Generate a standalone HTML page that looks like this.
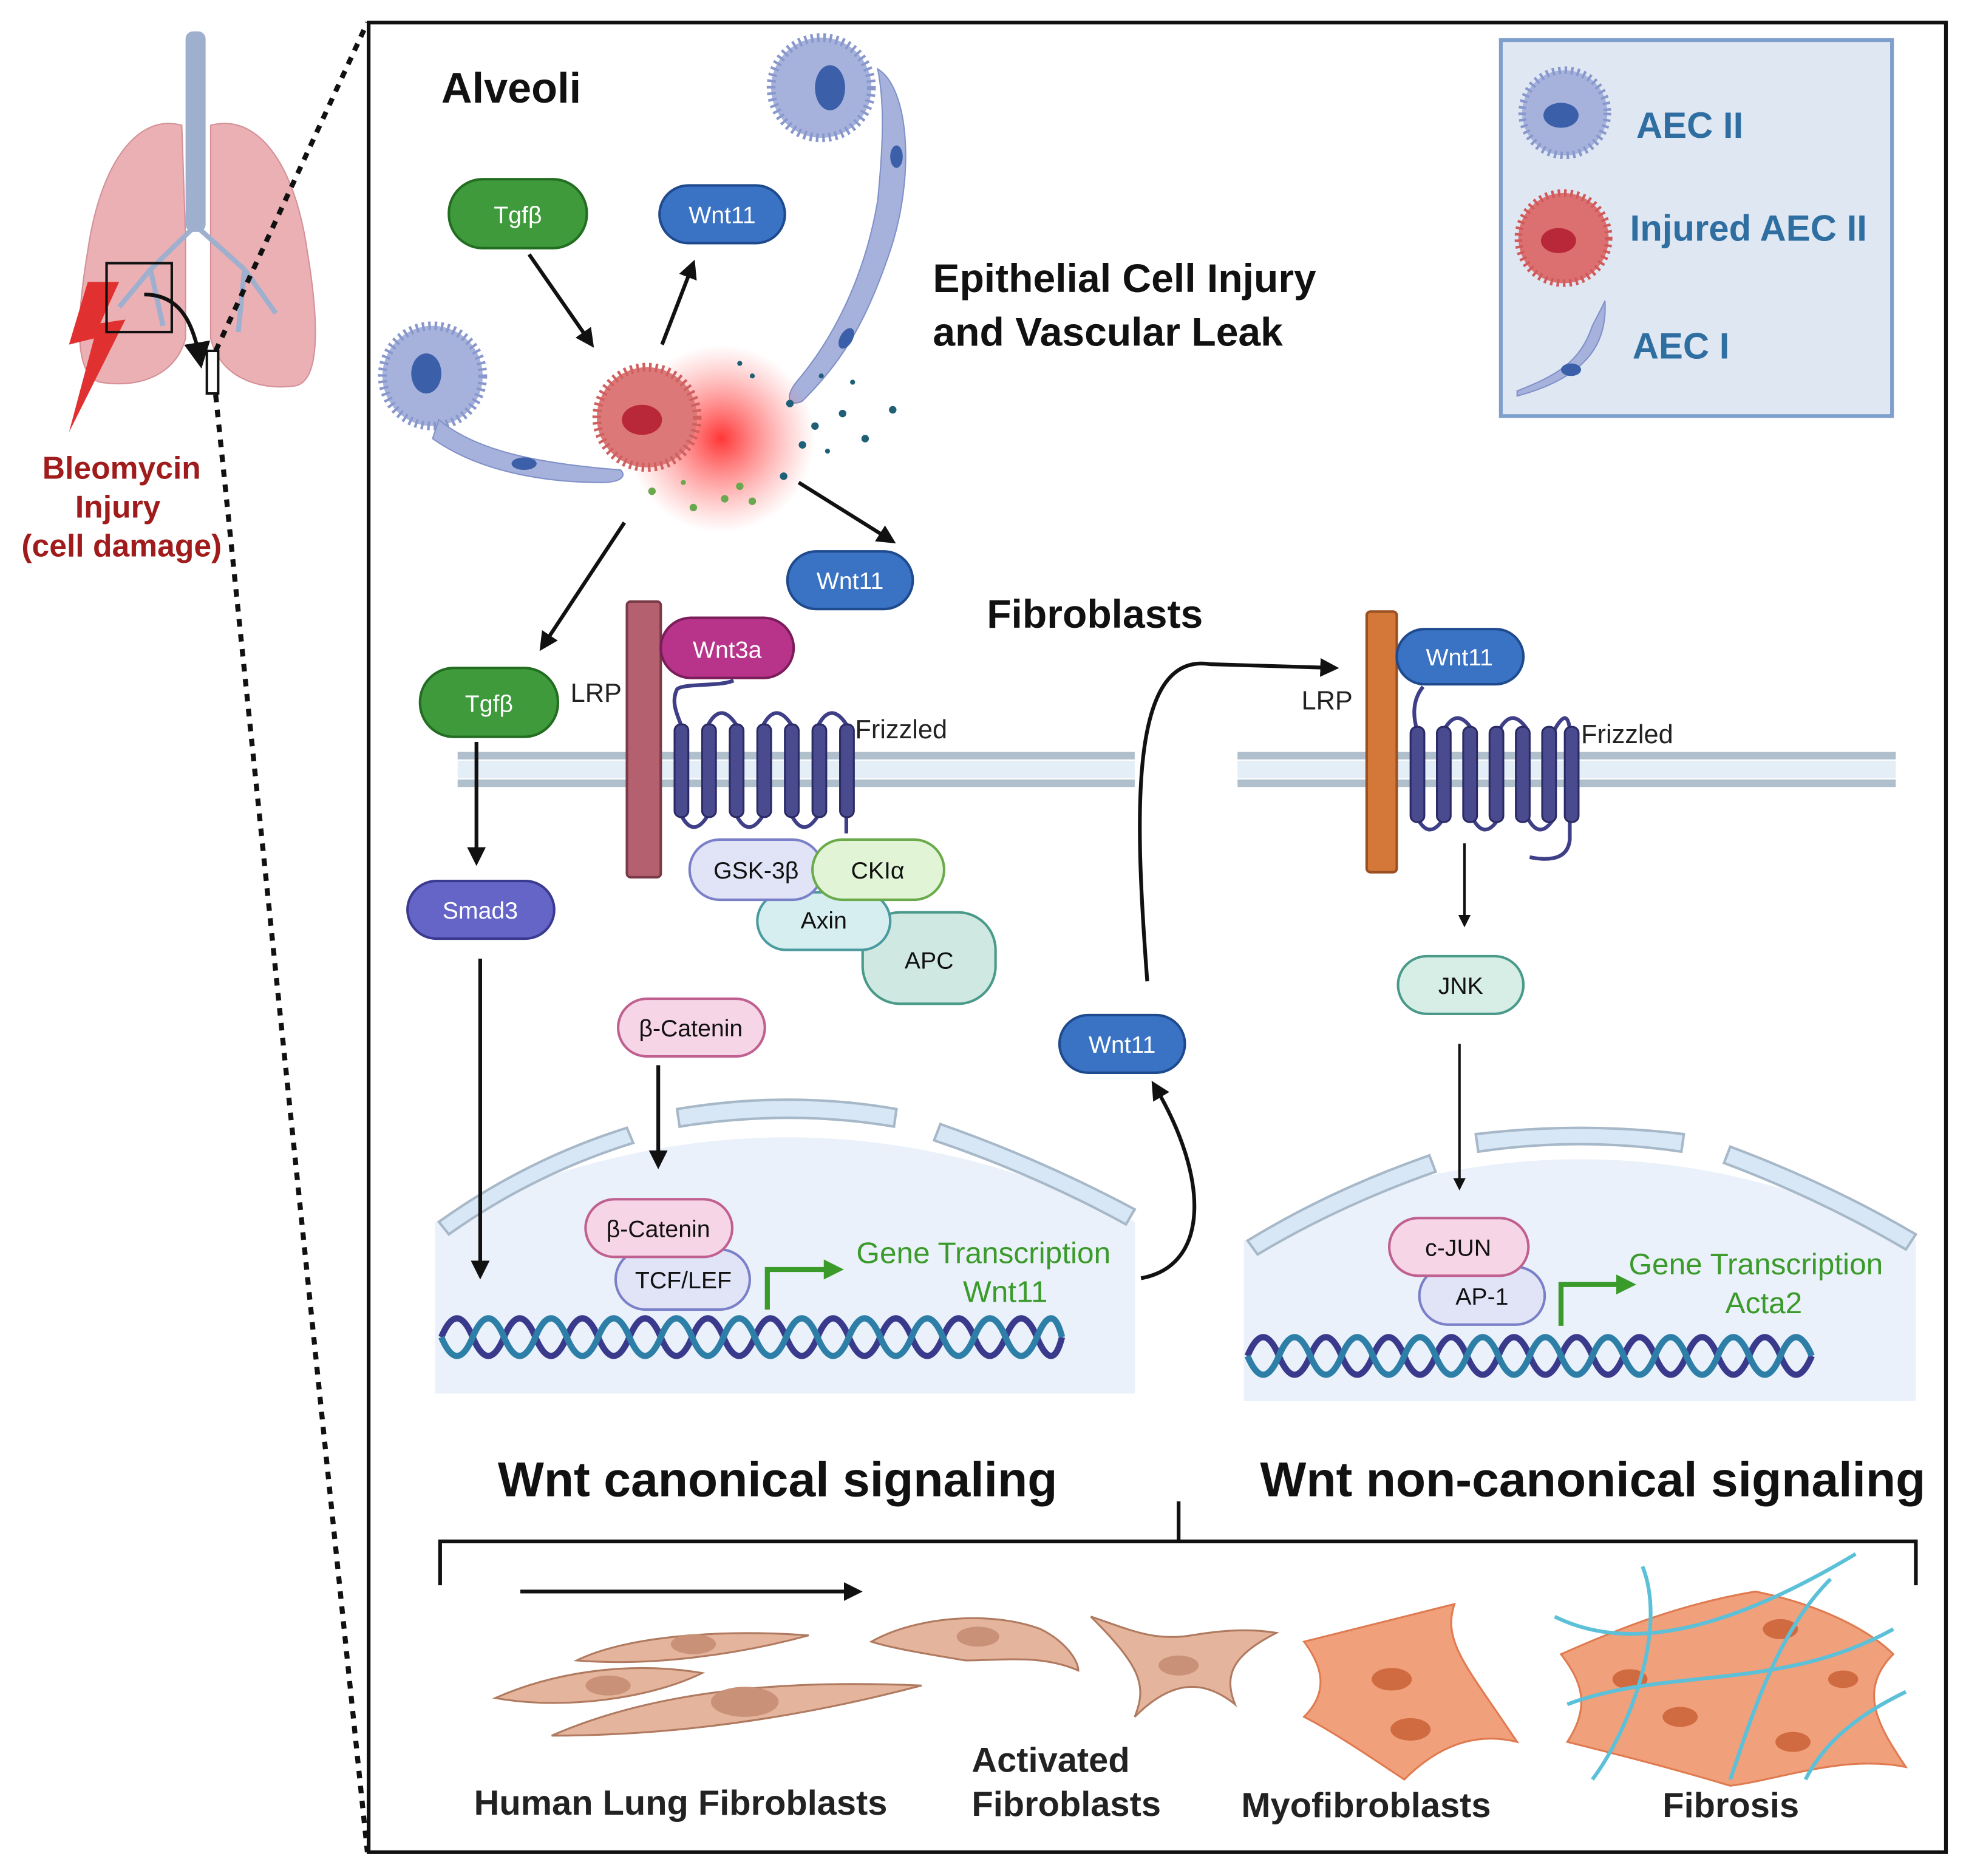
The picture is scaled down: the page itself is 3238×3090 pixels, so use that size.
<!DOCTYPE html>
<html><head><meta charset="utf-8"><style>
html,body{margin:0;padding:0;background:#fff;}
svg{display:block;}
text{font-family:"Liberation Sans",sans-serif;}
</style></head><body>
<svg width="3238" height="3090" viewBox="0 0 1568 1497" preserveAspectRatio="none" xmlns="http://www.w3.org/2000/svg">
<defs>
<marker id="ah" viewBox="0 0 10 10" refX="8" refY="5" markerWidth="5" markerHeight="5" orient="auto-start-reverse"><path d="M0,0L10,5L0,10z" fill="#111"/></marker>
<marker id="ahs" viewBox="0 0 10 10" refX="8" refY="5" markerWidth="7" markerHeight="7" orient="auto"><path d="M0,0L10,5L0,10z" fill="#111"/></marker>
<marker id="ahg" viewBox="0 0 10 10" refX="5" refY="5" markerWidth="4" markerHeight="4" orient="auto"><path d="M0,0L10,5L0,10z" fill="#3a9a2a"/></marker>
<radialGradient id="red" cx="0.5" cy="0.5" r="0.5"><stop offset="0" stop-color="#ff2020" stop-opacity="0.9"/><stop offset="1" stop-color="#ff6060" stop-opacity="0"/></radialGradient>
</defs>

<!-- lungs -->
<path d="M145,100 C110,90 80,130 70,200 C60,260 60,300 80,305 C110,310 140,300 148,270 L148,190 Z" fill="#eab0b4" stroke="#d49096"/>
<path d="M168,100 C205,90 235,130 245,200 C255,260 255,305 235,308 C205,312 175,300 168,270 L168,190 Z" fill="#eab0b4" stroke="#d49096"/>
<rect x="148" y="25" width="16" height="160" rx="6" fill="#9fb0cf"/>
<path d="M156,180 L120,215 M156,180 L195,215 M120,215 L95,245 M195,215 L220,250 M120,215 L130,260 M195,215 L190,265" stroke="#9fb0cf" stroke-width="4" fill="none"/>
<path d="M70,225 L55,275 L75,270 L55,345 L100,255 L80,258 L95,225 Z" fill="#e03030"/>
<rect x="85" y="210" width="52" height="55" fill="none" stroke="#111" stroke-width="2"/>
<path d="M115,235 C145,235 155,260 160,290" stroke="#111" stroke-width="3" fill="none" marker-end="url(#ahs)"/>
<rect x="165" y="280" width="9" height="34" fill="#fff" stroke="#111" stroke-width="2"/>
<line x1="172" y1="280" x2="293" y2="18" stroke="#111" stroke-width="4" stroke-dasharray="6,6"/>
<line x1="172" y1="315" x2="293" y2="1478" stroke="#111" stroke-width="4" stroke-dasharray="6,6"/>
<g font-weight="bold" font-size="25" fill="#a01c1c" text-anchor="middle">
<text x="97" y="382">Bleomycin</text><text x="94" y="413">Injury</text><text x="97" y="444">(cell damage)</text></g>

<!-- main box -->
<rect x="294" y="18" width="1258" height="1460" fill="#fff" stroke="#111" stroke-width="3"/>
<text x="352" y="82" font-size="34" font-weight="bold" fill="#111">Alveoli</text>

<!-- legend -->
<rect x="1197" y="32" width="312" height="300" fill="#dfe7f3" stroke="#7e9fcc" stroke-width="3"/>
<circle cx="1248" cy="90" r="34" fill="#a6b2dc" stroke="#8898cc" stroke-width="6" stroke-dasharray="2,3"/>
<ellipse cx="1245" cy="92" rx="14" ry="10" fill="#3b5fa8"/>
<circle cx="1247" cy="190" r="36" fill="#dc7070" stroke="#d05a5a" stroke-width="6" stroke-dasharray="2,3"/>
<ellipse cx="1243" cy="192" rx="14" ry="10" fill="#b82838"/>
<path d="M1210,312 C1240,300 1260,290 1270,260 C1275,250 1278,245 1280,240 C1282,270 1270,300 1210,316 Z" fill="#a6b2dc" stroke="#8090c8"/>
<ellipse cx="1253" cy="295" rx="8" ry="5" fill="#3b5fa8"/>
<g font-size="29" font-weight="bold" fill="#2f6ea0">
<text x="1305" y="110">AEC II</text><text x="1300" y="192">Injured AEC II</text><text x="1302" y="286">AEC I</text></g>

<!-- alveolar cells -->
<circle cx="655" cy="70" r="40" fill="#a6b2dc" stroke="#8898cc" stroke-width="7" stroke-dasharray="2,3"/>
<ellipse cx="662" cy="70" rx="12" ry="18" fill="#3b5fa8"/>
<path d="M700,55 C725,70 730,140 710,200 C690,260 670,290 640,320 C630,325 625,318 635,305 C665,270 690,220 700,160 C705,110 705,80 700,55 Z" fill="#a6b2dc" stroke="#8090c8"/>
<ellipse cx="715" cy="125" rx="5" ry="9" fill="#3b5fa8"/>
<ellipse cx="675" cy="270" rx="5" ry="9" fill="#3b5fa8" transform="rotate(30 675 270)"/>
<circle cx="345" cy="300" r="40" fill="#a6b2dc" stroke="#8898cc" stroke-width="7" stroke-dasharray="2,3"/>
<ellipse cx="340" cy="298" rx="12" ry="16" fill="#3b5fa8"/>
<path d="M350,335 C380,360 430,370 495,375 C500,380 495,385 480,385 C430,385 380,375 345,350 Z" fill="#a6b2dc" stroke="#8090c8"/>
<ellipse cx="418" cy="370" rx="10" ry="5" fill="#3b5fa8"/>
<circle cx="575" cy="350" r="75" fill="url(#red)"/>
<circle cx="516" cy="333" r="40" fill="#dc7878" stroke="#d06060" stroke-width="7" stroke-dasharray="2,3"/>
<ellipse cx="512" cy="335" rx="16" ry="12" fill="#b82838"/>
<g fill="#1f5f78">
<circle cx="630" cy="322" r="3"/><circle cx="650" cy="340" r="3"/><circle cx="672" cy="330" r="3"/><circle cx="690" cy="350" r="3"/><circle cx="712" cy="327" r="3"/><circle cx="640" cy="355" r="3"/><circle cx="660" cy="360" r="2"/><circle cx="625" cy="380" r="3"/><circle cx="600" cy="300" r="2"/><circle cx="590" cy="290" r="2"/><circle cx="680" cy="305" r="2"/><circle cx="655" cy="300" r="2"/></g>
<g fill="#6aa84f"><circle cx="520" cy="392" r="3"/><circle cx="553" cy="405" r="3"/><circle cx="578" cy="398" r="3"/><circle cx="600" cy="400" r="3"/><circle cx="545" cy="385" r="2"/><circle cx="590" cy="388" r="3"/></g>

<!-- pills top -->
<rect x="358" y="143" width="110" height="55" rx="27" fill="#3e9a3a" stroke="#236d22" stroke-width="2"/>
<text x="413" y="178" font-size="19" fill="#fff" text-anchor="middle">Tgfβ</text>
<rect x="526" y="148" width="100" height="46" rx="23" fill="#3a72c4" stroke="#1e4a8e" stroke-width="2"/>
<text x="576" y="178" font-size="19" fill="#fff" text-anchor="middle">Wnt11</text>
<line x1="422" y1="203" x2="472" y2="275" stroke="#111" stroke-width="3" marker-end="url(#ah)"/>
<line x1="528" y1="275" x2="553" y2="210" stroke="#111" stroke-width="3" marker-end="url(#ah)"/>
<line x1="637" y1="385" x2="712" y2="432" stroke="#111" stroke-width="3" marker-end="url(#ah)"/>
<line x1="498" y1="417" x2="432" y2="517" stroke="#111" stroke-width="3" marker-end="url(#ah)"/>
<rect x="628" y="440" width="100" height="46" rx="23" fill="#3a72c4" stroke="#1e4a8e" stroke-width="2"/>
<text x="678" y="470" font-size="19" fill="#fff" text-anchor="middle">Wnt11</text>

<g font-size="32" font-weight="bold" fill="#111">
<text x="744" y="233">Epithelial Cell Injury</text><text x="744" y="276">and Vascular Leak</text>
<text x="787" y="501">Fibroblasts</text></g>

<!-- membranes -->
<g stroke-width="6">
<line x1="365" y1="603" x2="905" y2="603" stroke="#b0bfcc"/><line x1="365" y1="625" x2="905" y2="625" stroke="#b0bfcc"/>
<line x1="987" y1="603" x2="1512" y2="603" stroke="#b0bfcc"/><line x1="987" y1="625" x2="1512" y2="625" stroke="#b0bfcc"/></g>
<rect x="365" y="607" width="540" height="14" fill="#e4eef7"/>
<rect x="987" y="607" width="525" height="14" fill="#e4eef7"/>

<!-- left nucleus -->
<rect x="347" y="975" width="558" height="137" fill="#eaf1fa"/>
<path d="M347,975 Q630,840 905,975 Z" fill="#eaf1fa"/>
<g fill="#d8e7f5" stroke="#a7b8c8" stroke-width="2">
<path d="M350,975 Q420,925 500,900 L505,912 Q425,937 358,985 Z"/>
<path d="M540,885 Q630,870 715,885 L713,899 Q630,885 542,899 Z"/>
<path d="M750,897 Q830,925 905,965 L898,977 Q825,937 745,910 Z"/></g>

<!-- right nucleus -->
<rect x="992" y="990" width="536" height="128" fill="#eaf1fa"/>
<path d="M992,990 Q1260,860 1528,990 Z" fill="#eaf1fa"/>
<g fill="#d8e7f5" stroke="#a7b8c8" stroke-width="2">
<path d="M995,990 Q1060,950 1140,922 L1145,935 Q1068,962 1003,1001 Z"/>
<path d="M1177,905 Q1260,895 1343,905 L1341,919 Q1260,907 1179,919 Z"/>
<path d="M1380,915 Q1460,945 1528,985 L1520,997 Q1452,957 1375,928 Z"/></g>

<!-- left receptor -->
<rect x="500" y="480" width="27" height="220" rx="3" fill="#b5606e" stroke="#7a3a48" stroke-width="2"/>
<text x="455" y="560" font-size="21" fill="#222">LRP</text>
<rect x="527" y="493" width="106" height="48" rx="24" fill="#b8338a" stroke="#7a1d5a" stroke-width="2"/>
<text x="580" y="525" font-size="19" fill="#fff" text-anchor="middle">Wnt3a</text>
<g fill="none" stroke="#3f3f88" stroke-width="3">
<path d="M585,543 C575,548 545,545 540,550 C535,560 540,570 543,578"/>
<path d="M543,578 L543,650 Q553,670 565,650 L565,578 Q575,560 587,578 L587,650 Q597,670 609,650 L609,578 Q619,560 631,578 L631,650 Q641,670 653,650 L653,578 Q663,560 675,578 L675,665"/></g>
<g fill="#4a4a8e" stroke="#2a2a66" stroke-width="1.5">
<rect x="538" y="578" width="11" height="74" rx="5"/><rect x="560" y="578" width="11" height="74" rx="5"/><rect x="582" y="578" width="11" height="74" rx="5"/><rect x="604" y="578" width="11" height="74" rx="5"/><rect x="626" y="578" width="11" height="74" rx="5"/><rect x="648" y="578" width="11" height="74" rx="5"/><rect x="670" y="578" width="11" height="74" rx="5"/></g>
<text x="682" y="589" font-size="21" fill="#222">Frizzled</text>
<rect x="688" y="728" width="106" height="73" rx="30" fill="#cfe9e2" stroke="#4a9a8a" stroke-width="2"/>
<text x="741" y="773" font-size="19" fill="#111" text-anchor="middle">APC</text>
<rect x="604" y="712" width="106" height="46" rx="23" fill="#d6eef0" stroke="#4a9aa0" stroke-width="2"/>
<text x="657" y="741" font-size="19" fill="#111" text-anchor="middle">Axin</text>
<rect x="550" y="670" width="106" height="48" rx="24" fill="#e1e4f6" stroke="#7a80c8" stroke-width="2"/>
<text x="603" y="701" font-size="19" fill="#111" text-anchor="middle">GSK-3β</text>
<rect x="648" y="670" width="105" height="48" rx="24" fill="#e2f4d6" stroke="#6aaa4a" stroke-width="2"/>
<text x="700" y="701" font-size="19" fill="#111" text-anchor="middle">CKIα</text>

<!-- Tgfb path -->
<rect x="335" y="533" width="110" height="55" rx="27" fill="#3e9a3a" stroke="#236d22" stroke-width="2"/>
<text x="390" y="568" font-size="19" fill="#fff" text-anchor="middle">Tgfβ</text>
<line x1="380" y1="592" x2="380" y2="688" stroke="#111" stroke-width="3" marker-end="url(#ah)"/>
<rect x="325" y="703" width="117" height="46" rx="23" fill="#6565c8" stroke="#3a3a90" stroke-width="2"/>
<text x="383" y="733" font-size="19" fill="#fff" text-anchor="middle">Smad3</text>
<line x1="383" y1="765" x2="383" y2="1018" stroke="#111" stroke-width="3" marker-end="url(#ah)"/>

<rect x="493" y="797" width="117" height="46" rx="23" fill="#f6d6e6" stroke="#c06090" stroke-width="2"/>
<text x="551" y="827" font-size="19" fill="#111" text-anchor="middle">β-Catenin</text>
<line x1="525" y1="850" x2="525" y2="930" stroke="#111" stroke-width="3" marker-end="url(#ah)"/>
<rect x="491" y="997" width="107" height="48" rx="24" fill="#e1e4f6" stroke="#7a80c8" stroke-width="2"/>
<text x="545" y="1028" font-size="19" fill="#111" text-anchor="middle">TCF/LEF</text>
<rect x="467" y="957" width="117" height="46" rx="23" fill="#f6d6e6" stroke="#c06090" stroke-width="2"/>
<text x="525" y="987" font-size="19" fill="#111" text-anchor="middle">β-Catenin</text>
<path d="M612,1045 L612,1013 L665,1013" stroke="#3a9a2a" stroke-width="4" fill="none" marker-end="url(#ahg)"/>
<g font-size="24" fill="#3a9a2a"><text x="683" y="1008">Gene Transcription</text><text x="768" y="1039">Wnt11</text></g>
<g fill="none" stroke-width="5">
<path d="M352,1067 q12.5,-30 25,0 t25,0 t25,0 t25,0 t25,0 t25,0 t25,0 t25,0 t25,0 t25,0 t25,0 t25,0 t25,0 t25,0 t25,0 t25,0 t25,0 t25,0 t25,0 t20,0" stroke="#3a3a8c"/>
<path d="M352,1067 q12.5,30 25,0 t25,0 t25,0 t25,0 t25,0 t25,0 t25,0 t25,0 t25,0 t25,0 t25,0 t25,0 t25,0 t25,0 t25,0 t25,0 t25,0 t25,0 t25,0 t20,0" stroke="#2e7fa8"/></g>

<!-- feedback Wnt11 -->
<path d="M910,1020 C965,1010 965,940 920,865" stroke="#111" stroke-width="3" fill="none" marker-end="url(#ah)"/>
<rect x="845" y="810" width="100" height="46" rx="23" fill="#3a72c4" stroke="#1e4a8e" stroke-width="2"/>
<text x="895" y="840" font-size="19" fill="#fff" text-anchor="middle">Wnt11</text>
<path d="M915,783 C905,650 900,520 965,530 L1065,533" stroke="#111" stroke-width="3" fill="none" marker-end="url(#ah)"/>

<!-- right receptor -->
<rect x="1090" y="488" width="24" height="208" rx="3" fill="#d4783a" stroke="#9a5020" stroke-width="2"/>
<text x="1038" y="566" font-size="21" fill="#222">LRP</text>
<rect x="1114" y="502" width="101" height="44" rx="22" fill="#3a72c4" stroke="#1e4a8e" stroke-width="2"/>
<text x="1164" y="531" font-size="19" fill="#fff" text-anchor="middle">Wnt11</text>
<g fill="none" stroke="#3f3f88" stroke-width="3">
<path d="M1135,548 C1125,560 1128,575 1130,582"/>
<path d="M1130,582 L1130,652 Q1140,672 1152,652 L1152,582 Q1162,564 1174,582 L1174,652 Q1184,672 1196,652 L1196,582 Q1206,564 1218,582 L1218,652 Q1228,672 1240,652 L1240,582 Q1250,564 1252,582 L1252,670 Q1250,690 1220,684"/></g>
<g fill="#4a4a8e" stroke="#2a2a66" stroke-width="1.5">
<rect x="1125" y="580" width="11" height="76" rx="5"/><rect x="1146" y="580" width="11" height="76" rx="5"/><rect x="1167" y="580" width="11" height="76" rx="5"/><rect x="1188" y="580" width="11" height="76" rx="5"/><rect x="1209" y="580" width="11" height="76" rx="5"/><rect x="1230" y="580" width="11" height="76" rx="5"/><rect x="1248" y="580" width="11" height="76" rx="5"/></g>
<text x="1261" y="593" font-size="21" fill="#222">Frizzled</text>
<line x1="1168" y1="673" x2="1168" y2="738" stroke="#111" stroke-width="2" marker-end="url(#ah)"/>
<rect x="1115" y="763" width="100" height="46" rx="23" fill="#d6eee6" stroke="#4a9a8a" stroke-width="2"/>
<text x="1165" y="793" font-size="19" fill="#111" text-anchor="middle">JNK</text>
<line x1="1164" y1="833" x2="1164" y2="948" stroke="#111" stroke-width="2" marker-end="url(#ah)"/>

<rect x="1132" y="1011" width="100" height="46" rx="23" fill="#e1e4f6" stroke="#7a80c8" stroke-width="2"/>
<text x="1182" y="1041" font-size="19" fill="#111" text-anchor="middle">AP-1</text>
<rect x="1108" y="972" width="111" height="46" rx="23" fill="#f6d6e6" stroke="#c06090" stroke-width="2"/>
<text x="1163" y="1002" font-size="19" fill="#111" text-anchor="middle">c-JUN</text>
<path d="M1245,1058 L1245,1025 L1297,1025" stroke="#3a9a2a" stroke-width="4" fill="none" marker-end="url(#ahg)"/>
<g font-size="24" fill="#3a9a2a"><text x="1299" y="1017">Gene Transcription</text><text x="1376" y="1048">Acta2</text></g>
<g fill="none" stroke-width="5">
<path d="M995,1082 q12.5,-30 25,0 t25,0 t25,0 t25,0 t25,0 t25,0 t25,0 t25,0 t25,0 t25,0 t25,0 t25,0 t25,0 t25,0 t25,0 t25,0 t25,0 t25,0" stroke="#3a3a8c"/>
<path d="M995,1082 q12.5,30 25,0 t25,0 t25,0 t25,0 t25,0 t25,0 t25,0 t25,0 t25,0 t25,0 t25,0 t25,0 t25,0 t25,0 t25,0 t25,0 t25,0 t25,0" stroke="#2e7fa8"/></g>

<!-- bottom titles -->
<g font-size="39" font-weight="bold" fill="#111">
<text x="397" y="1194">Wnt canonical signaling</text><text x="1005" y="1194">Wnt non-canonical signaling</text></g>
<path d="M351,1265 L351,1230 L1528,1230 L1528,1265 M940,1230 L940,1198" stroke="#111" stroke-width="3" fill="none"/>
<line x1="415" y1="1270" x2="685" y2="1270" stroke="#111" stroke-width="3" marker-end="url(#ah)"/>

<!-- fibroblasts -->
<g fill="#e4b49c" stroke="#b07a60" stroke-width="1.5">
<path d="M460,1325 C500,1305 580,1300 645,1305 C590,1320 520,1330 460,1325 Z"/>
<path d="M395,1355 C440,1335 500,1325 560,1335 C520,1355 450,1365 395,1355 Z"/>
<path d="M440,1385 C520,1350 620,1340 735,1345 C640,1370 540,1385 440,1385 Z"/>
<path d="M695,1310 C730,1290 790,1285 830,1300 C850,1310 860,1325 860,1333 C830,1320 800,1325 770,1325 C740,1320 710,1315 695,1310 Z"/>
<path d="M870,1290 C900,1300 920,1310 950,1305 C980,1300 1000,1300 1018,1303 C985,1320 975,1335 985,1360 C960,1340 935,1340 905,1370 C915,1345 910,1330 870,1290 Z"/></g>
<g fill="#c99278"><ellipse cx="553" cy="1312" rx="18" ry="8"/><ellipse cx="485" cy="1345" rx="18" ry="8"/><ellipse cx="594" cy="1358" rx="27" ry="12"/><ellipse cx="780" cy="1306" rx="17" ry="8"/><ellipse cx="940" cy="1329" rx="16" ry="8"/></g>
<g fill="#f0a07a" stroke="#e07a50" stroke-width="1.5">
<path d="M1040,1310 C1080,1300 1120,1290 1160,1280 C1150,1310 1170,1330 1210,1390 C1170,1380 1140,1400 1120,1420 C1090,1400 1060,1380 1040,1370 C1060,1350 1055,1330 1040,1310 Z"/>
<path d="M1245,1320 C1290,1300 1340,1280 1400,1270 C1450,1280 1490,1300 1510,1320 C1480,1350 1500,1380 1520,1410 C1470,1400 1420,1420 1380,1425 C1330,1410 1290,1400 1250,1390 C1270,1360 1260,1340 1245,1320 Z"/></g>
<g fill="#d06a40"><ellipse cx="1110" cy="1340" rx="16" ry="9"/><ellipse cx="1125" cy="1380" rx="16" ry="9"/><ellipse cx="1300" cy="1340" rx="14" ry="8"/><ellipse cx="1420" cy="1300" rx="14" ry="8"/><ellipse cx="1340" cy="1370" rx="14" ry="8"/><ellipse cx="1430" cy="1390" rx="14" ry="8"/><ellipse cx="1470" cy="1340" rx="12" ry="7"/></g>
<g fill="none" stroke="#5cc0d8" stroke-width="3">
<path d="M1240,1290 C1300,1320 1380,1300 1480,1240"/><path d="M1250,1360 C1330,1330 1420,1350 1510,1300"/><path d="M1270,1420 C1300,1380 1330,1300 1310,1250"/><path d="M1380,1420 C1400,1360 1420,1300 1460,1260"/><path d="M1440,1420 C1460,1380 1500,1360 1520,1350"/></g>
<g font-size="28" font-weight="bold" fill="#222">
<text x="378" y="1448">Human Lung Fibroblasts</text>
<text x="775" y="1414">Activated</text><text x="775" y="1449">Fibroblasts</text>
<text x="990" y="1450">Myofibroblasts</text>
<text x="1326" y="1450">Fibrosis</text></g>
</svg>
</body></html>
